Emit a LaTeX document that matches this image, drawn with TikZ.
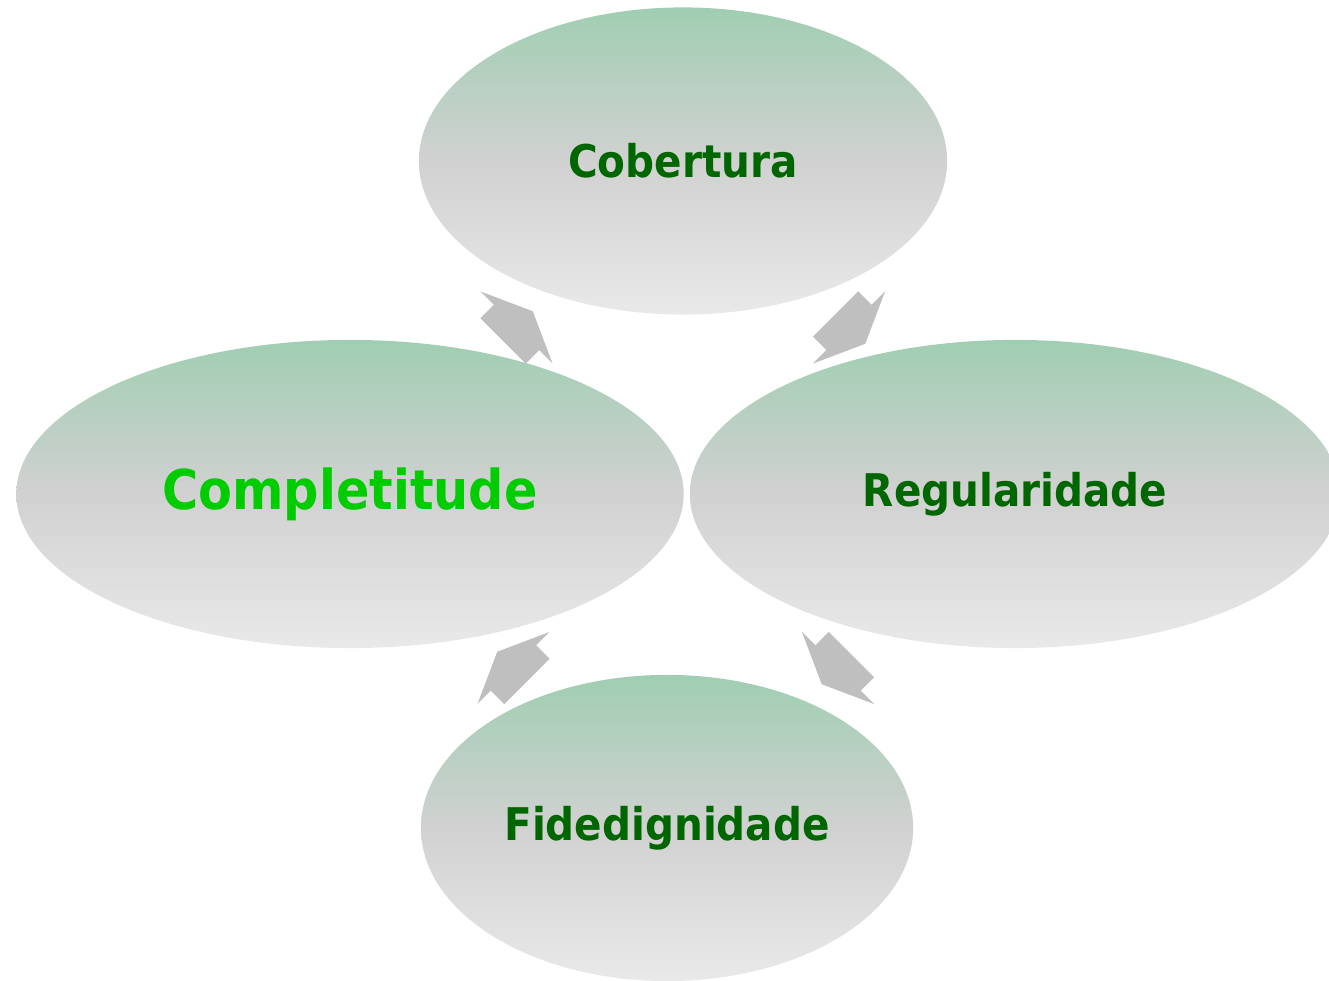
\documentclass[tikz,border=0pt]{standalone}
\usepackage{fontspec}
\setmainfont{DejaVu Sans Condensed}
\usetikzlibrary{calc,shapes.geometric}
\definecolor{topgreen}{RGB}{160,206,178}
\definecolor{midgray}{RGB}{209,209,209}
\definecolor{lowgray}{RGB}{233,233,233}
\definecolor{arrowgray}{RGB}{191,191,191}
\definecolor{darkleaf}{RGB}{0,102,0}
\definecolor{brightleaf}{RGB}{0,204,0}
\tikzset{
	bubble/.style={ellipse, inner sep=0pt, top color=topgreen, bottom color=lowgray, middle color=midgray, text=darkleaf, font=\bfseries\fontsize{12.8}{15}\selectfont},
	cyclearrow/.pic={\fill[arrowgray] (0,51) -- (0,32) -- (-19,32) -- (-19,-32) -- (0,-32) -- (0,-51) -- (23,0) -- cycle;}
}

\begin{document}
\begin{tikzpicture}[x=0.01cm, y=0.01cm]
		%%%%% START %%%%%
		\useasboundingbox (0,0) rectangle (1329,981);
		
		\node[bubble, minimum width=5.28cm, minimum height=3.07cm] (cob) at (683,820) {Cobertura};
		\node[bubble, minimum width=6.67cm, minimum height=3.08cm, text=brightleaf, font=\bfseries\fontsize{15.6}{18}\selectfont] (comp) at (350,487) {Completitude};
		\node[bubble, minimum width=6.50cm, minimum height=3.08cm] (reg) at (1015,487) {Regularidade};
		\node[bubble, minimum width=4.92cm, minimum height=3.06cm] (fid) at (667,153) {Fidedignidade};
		
		\pic[rotate=45] at ($(comp)!0.5!(cob)$) {cyclearrow};
		\pic[rotate=-45] at ($(cob)!0.5!(reg)$) {cyclearrow};
		\pic[rotate=-135] at ($(reg)!0.5!(fid)+(-3,-7)$) {cyclearrow};
		\pic[rotate=135] at ($(fid)!0.5!(comp)+(5,-7)$) {cyclearrow};
		%%%%% END %%%%%
\end{tikzpicture}
\end{document}
